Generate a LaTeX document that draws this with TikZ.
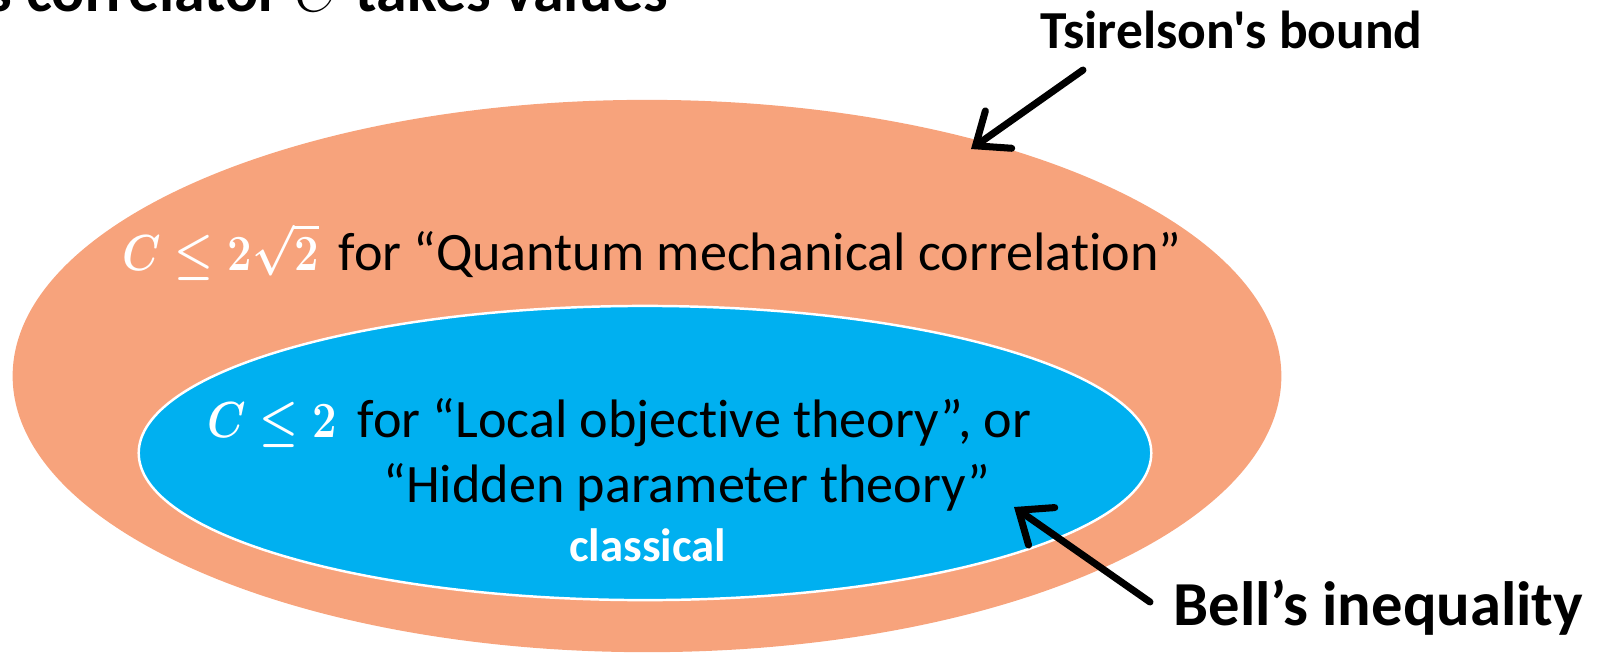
\documentclass[tikz,border=0pt]{standalone}
\usepackage{amsmath}
\usepackage{fontspec}
\setmainfont{Carlito}[Ligatures={TeXOff,NoCommon}]
\usetikzlibrary{arrows.meta}
\definecolor{quantumorange}{HTML}{F7A37C}
\definecolor{classicalblue}{HTML}{00B0F0}
\newcommand{\boundexpr}[1]{\textcolor{white}{\scalebox{0.86}[1]{$\boldsymbol{#1}$}}\hspace{0.15em}}
\tikzset{
  label/.style={inner sep=0pt, anchor=base west},
  pointer/.style={line width=2pt, line cap=round, -{Straight Barb[length=8pt,width=13pt,line cap=round]}},
}
\begin{document}
\begin{tikzpicture}[x=0.01cm, y=-0.01cm, thick]
    \useasboundingbox (0,0) rectangle (1614,653);
    \clip (0,0) rectangle (1614,653);

    % the two regions
    \fill[quantumorange] (647,376) ellipse [x radius=6.34cm, y radius=2.76cm];
    \filldraw[fill=classicalblue, draw=white, line width=0.7pt] (645,453) ellipse [x radius=5.06cm, y radius=1.47cm];

    \node[label, font=\fontsize{17.6}{20}\bfseries\selectfont] (title) at (-14,11) {s correlator $C$ takes values};

    \node[label, font=\fontsize{15.4}{18}\selectfont] (quantum) at (121,270) {\boundexpr{C\leq 2\sqrt{2}} for “Quantum mechanical correlation”};
    \node[label, font=\fontsize{15.4}{18}\selectfont] (local) at (206,437) {\boundexpr{C\leq 2} for “Local objective theory”, or};
    \node[label, font=\fontsize{15.4}{18}\selectfont] (hidden) at (382,502) {“Hidden parameter theory”};
    \node[label, font=\fontsize{13.3}{16}\bfseries\selectfont, text=white] (classical) at (568,561) {classical};

    \node[label, font=\fontsize{15.2}{18}\bfseries\selectfont] (tsirelson) at (1039,48) {Tsirelson's bound};
    \node[label, font=\fontsize{17.8}{20}\bfseries\selectfont] (bell) at (1172,625) {Bell’s inequality};

    \coordinate (tsitail) at (1083,70);  \coordinate (tsitip) at (971,149);
    \coordinate (belltail) at (1150,602); \coordinate (belltip) at (1014,507);

    \draw[pointer] (tsitail) -- (tsitip);
    \draw[pointer] (belltail) -- (belltip);
\end{tikzpicture}
\end{document}
